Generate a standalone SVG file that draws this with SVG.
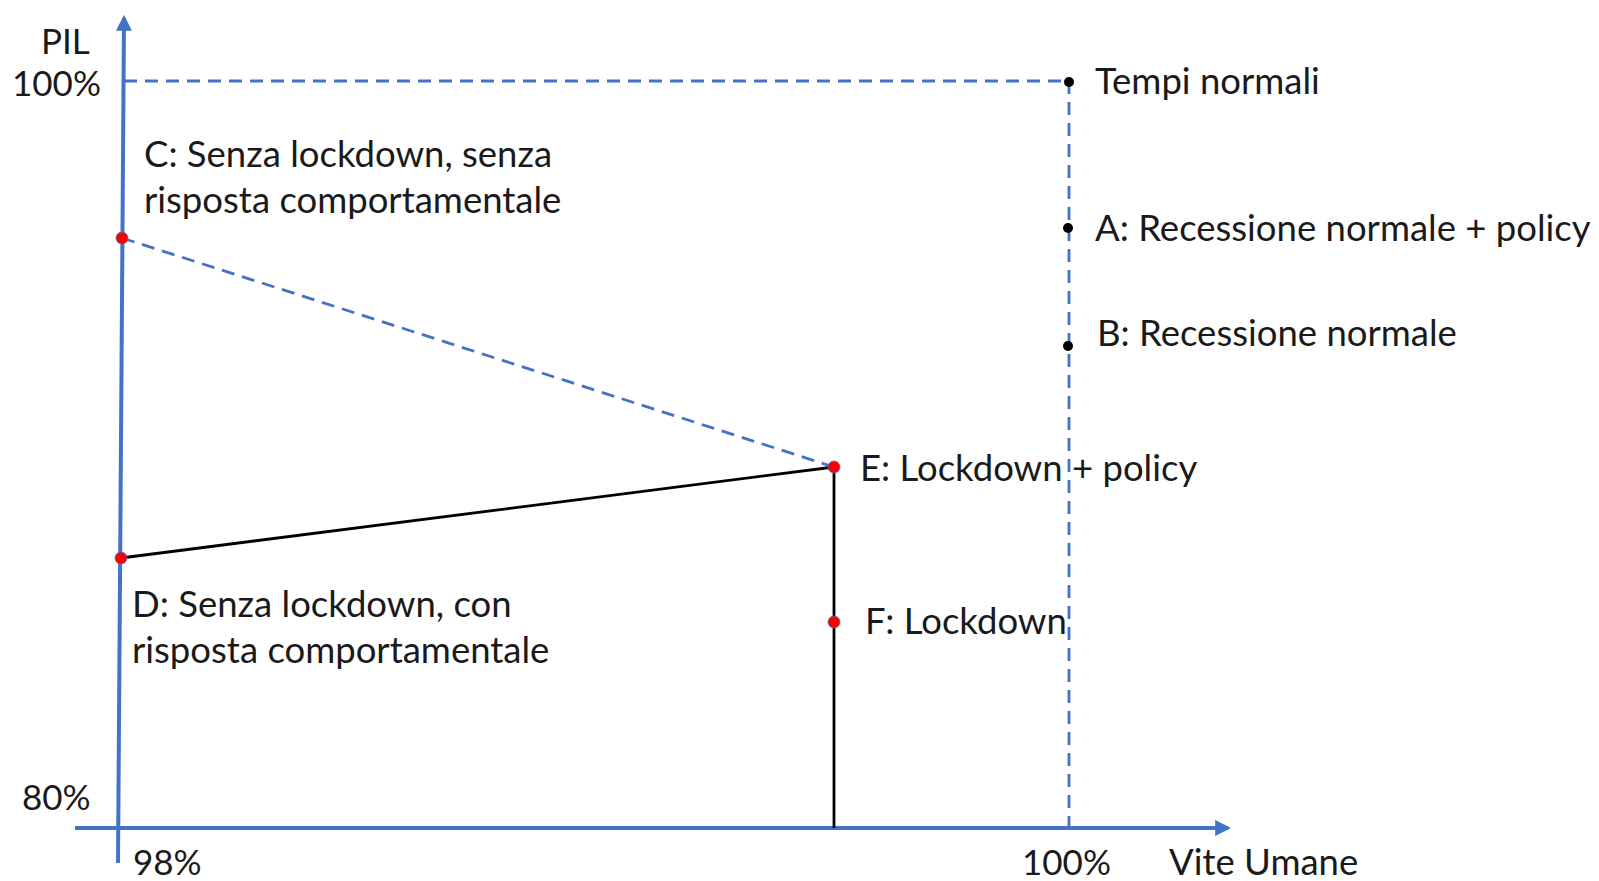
<svg xmlns="http://www.w3.org/2000/svg" width="1599" height="881" viewBox="0 0 1599 881">
<style>
text{font-family:Lato,"Open Sans",sans-serif;font-size:36.5px;fill:#1a1a1a}
.num{font-size:35px}
.axis{stroke:#4472C4;stroke-width:4;fill:none}
.dash{stroke:#4472C4;stroke-width:2.8;fill:none;stroke-dasharray:13 8}
.solid{stroke:#000;stroke-width:2.8;fill:none}
.red{fill:#FF0000;stroke:#4472C4;stroke-width:0.8}
.blk{fill:#000}
</style>
<defs>
<marker id="ah" viewBox="0 0 10 10" refX="8" refY="5" markerWidth="4" markerHeight="4.5" orient="auto-start-reverse" markerUnits="strokeWidth">
<path d="M0,0 L10,5 L0,10 z" fill="#4472C4"/>
</marker>
</defs>
<rect width="1599" height="881" fill="#fff"/>
<g id="axes">
<line class="axis" x1="118" y1="863" x2="124" y2="18" marker-end="url(#ah)"/>
<line class="axis" x1="75" y1="828" x2="1228" y2="828" marker-end="url(#ah)"/>
<text class="num" x="41" y="54">PIL</text>
<text class="num" x="12" y="96">100%</text>
<text class="num" x="22" y="810">80%</text>
<text class="num" x="133" y="875">98%</text>
<text class="num" x="1022" y="875">100%</text>
<text x="1169" y="875">Vite Umane</text>
</g>
<g id="connectors">
<line class="dash" x1="124" y1="81" x2="1069" y2="81"/>
<line class="dash" x1="1069" y1="81" x2="1069" y2="828"/>
<line class="dash" x1="122" y1="238" x2="834" y2="467"/>
<line class="solid" x1="121" y1="558" x2="834" y2="467"/>
<line class="solid" x1="834" y1="467" x2="834" y2="828"/>
</g>
<g id="tempi"><circle class="blk" cx="1069" cy="82" r="5"/><text x="1095" y="94">Tempi normali</text></g>
<g id="A"><circle class="blk" cx="1068" cy="228" r="5"/><text x="1095" y="241">A: Recessione normale + policy</text></g>
<g id="B"><circle class="blk" cx="1068" cy="346" r="5"/><text x="1097" y="346">B: Recessione normale</text></g>
<g id="C"><circle class="red" cx="122" cy="238" r="6"/><text x="144" y="167">C: Senza lockdown, senza</text><text x="144" y="213">risposta comportamentale</text></g>
<g id="D"><circle class="red" cx="121" cy="558" r="6"/><text x="132" y="617">D: Senza lockdown, con</text><text x="132" y="663">risposta comportamentale</text></g>
<g id="E"><circle class="red" cx="834" cy="467" r="6"/><text x="860" y="481">E: Lockdown + policy</text></g>
<g id="F"><circle class="red" cx="834" cy="622" r="6"/><text x="865" y="634">F: Lockdown</text></g>
</svg>
